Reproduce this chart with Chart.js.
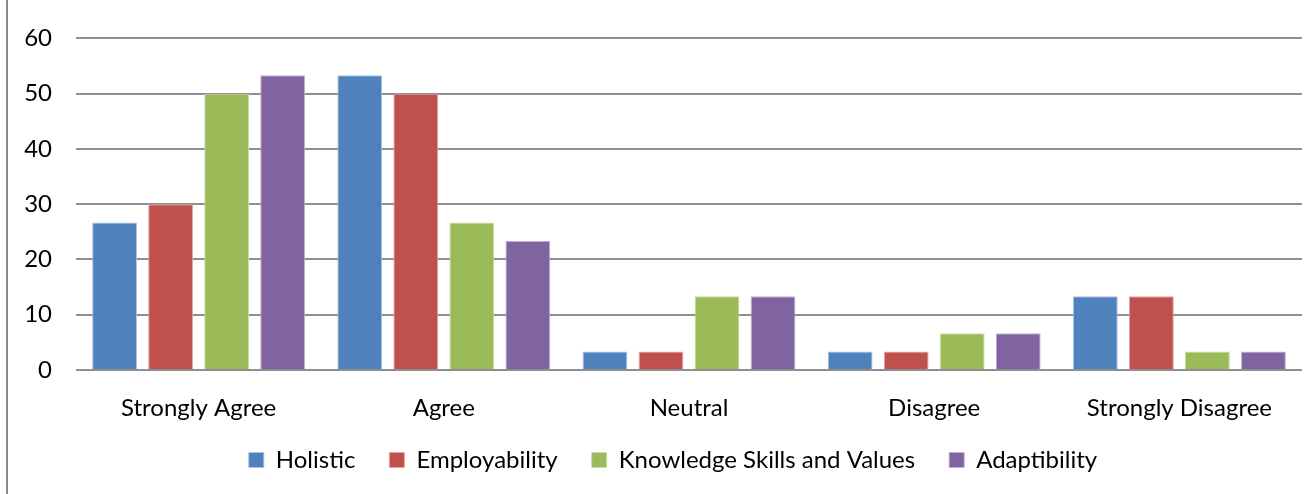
<!DOCTYPE html>
<html>
<head>
<meta charset="utf-8">
<script src="https://cdn.jsdelivr.net/npm/chart.js@4.4.0/dist/chart.umd.min.js"></script>
<style>
  html, body { margin: 0; padding: 0; background: #fff; }
  #wrap { position: relative; width: 1314px; height: 494px; }
  #edge { position: absolute; left: 6px; top: 0; width: 2px; height: 494px; background: #8a8a8a; }
  canvas { position: absolute; left: 0; top: 0; }
</style>
</head>
<body>
<div id="wrap">
  <canvas id="c" width="1314" height="494"></canvas>
  <div id="edge"></div>
</div>
<script>
const categories = ["Strongly Agree", "Agree", "Neutral", "Disagree", "Strongly Disagree"];
const holistic = [26.67, 53.33, 3.33, 3.33, 13.33];
const employability = [30, 50, 3.33, 3.33, 13.33];
const knowledge = [50, 26.67, 13.33, 6.67, 3.33];
const adaptibility = [53.33, 23.33, 13.33, 6.67, 3.33];
const seriesNames = ["Holistic", "Employability", "Knowledge Skills and Values", "Adaptibility"];
const yTicks = [0, 10, 20, 30, 40, 50, 60];

const colors = ["#4F81BD", "#C0504D", "#9BBB59", "#8064A2"];
const borders = ["#a9c1de", "#dfa6a4", "#cddcab", "#bfb0d1"];
const FONT = "Lato";
const FS = 24;

const legendPatch = {
  id: 'legendPatch',
  beforeUpdate(chart) {
    const lg = chart.legend;
    if (lg && !lg._patched) {
      const orig = lg.fit;
      lg.fit = function () { orig.call(this); this.height = 64; };
      lg._patched = true;
    }
  },
  afterLayout(chart) {
    const lg = chart.legend;
    if (lg) {
      lg.top -= 16; lg.bottom -= 16;
      lg.left += 22; lg.right += 22;
    }
  }
};

new Chart(document.getElementById('c'), {
  type: 'bar',
  data: {
    labels: categories,
    datasets: [holistic, employability, knowledge, adaptibility].map((d, i) => ({
      label: seriesNames[i],
      data: d,
      backgroundColor: colors[i],
      borderColor: borders[i],
      borderWidth: 1,
      categoryPercentage: 0.914,
      barPercentage: 0.80
    }))
  },
  options: {
    responsive: false,
    animation: false,
    devicePixelRatio: 1,
    layout: { padding: { left: 0, right: 12, top: 37, bottom: 0 } },
    plugins: {
      tooltip: { enabled: false },
      legend: {
        position: 'bottom',
        labels: {
          color: '#000',
          font: { family: FONT, size: FS },
          boxWidth: 15,
          boxHeight: 15,
          padding: 34
        }
      }
    },
    scales: {
      x: {
        grid: { display: false },
        border: { display: false },
        ticks: { color: '#000', font: { family: FONT, size: FS }, padding: 16, maxRotation: 0 },
        afterFit(s) { s.height = 60; }
      },
      y: {
        min: 0, max: 60,
        afterBuildTicks(s) { s.ticks = yTicks.map(v => ({ value: v })); },
        grid: { color: '#8f8f8f', lineWidth: 2, drawTicks: false },
        border: { display: false },
        ticks: { color: '#000', font: { family: FONT, size: FS }, padding: 24 },
        afterFit(s) { s.width = 76; }
      }
    }
  },
  plugins: [legendPatch]
});
</script>
</body>
</html>
